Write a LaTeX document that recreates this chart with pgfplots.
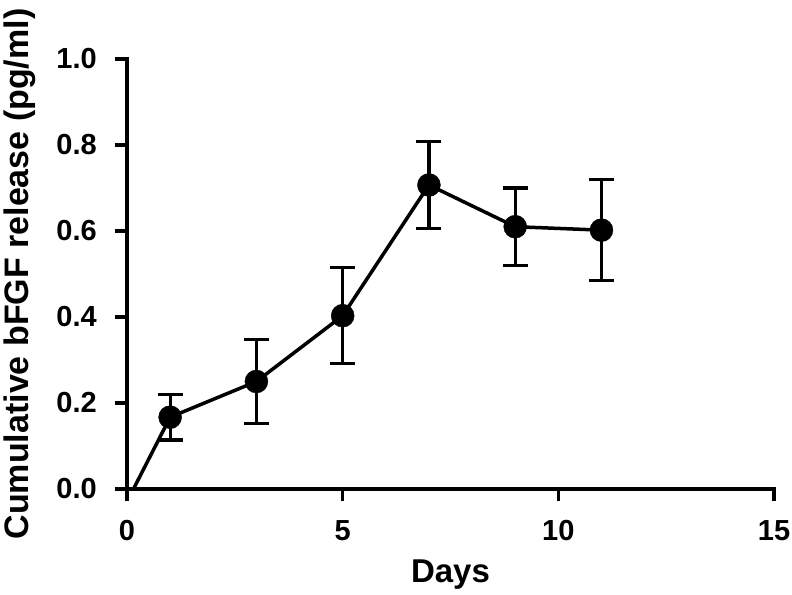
\documentclass[border=0pt]{standalone}
\usepackage{fontspec}
\setmainfont{Liberation Sans}
\usepackage{pgfplots}
\pgfplotsset{compat=1.18}

\begin{document}
\begin{tikzpicture}[x=1pt,y=1pt]
  % fixed page, 1pt = 1px of the reference
  \useasboundingbox (0,0) rectangle (792,594);

  \begin{axis}[
    at={(127pt,105pt)}, anchor=south west,
    scale only axis,
    width=647pt, height=430pt,
    xmin=0, xmax=15, ymin=0, ymax=1.0,
    axis x line*=bottom, axis y line*=left,
    axis line style={line width=3.2pt, line cap=rect},
    tick align=outside,
    major tick length=12pt,
    tick style={line width=3.2pt, black},
    xtick={0,5,10,15},
    ytick={0,0.2,0.4,0.6,0.8,1.0},
    /pgf/number format/assume math mode=true,
    yticklabel style={/pgf/number format/fixed, /pgf/number format/precision=1,
      /pgf/number format/fixed zerofill, font=\fontsize{29}{29}\selectfont\bfseries,
      anchor=east, inner sep=0pt, xshift=-18pt},
    xticklabel style={font=\fontsize{29}{29}\selectfont\bfseries,
      anchor=north, inner sep=0pt, yshift=-19pt},
    xlabel={Days},
    ylabel={Cumulative bFGF release (pg/ml)},
    every axis x label/.style={at={(axis description cs:0.5,-0.2186)}, anchor=base,
      font=\fontsize{33}{33}\selectfont\bfseries},
    every axis y label/.style={at={(axis description cs:-0.153,0.5)}, rotate=90, anchor=base,
      font=\fontsize{34}{34}\selectfont\bfseries},
    clip=false,
  ]

    % connecting line, starts near the origin
    \addplot[black, line width=3.5pt, mark=none]
      coordinates {(0.15,0) (1,0.167) (3,0.250) (5,0.403) (7,0.707) (9,0.610) (11,0.602)};

    % means with error bars
    \addplot[only marks, mark=*, mark size=11.5pt, black,
      error bars/.cd, y dir=both, y explicit,
      error bar style={line width=3.2pt, black},
      error mark options={rotate=90, mark size=12.5pt, line width=3.2pt, black}]
      coordinates {
        (1,0.167) +- (0,0.053)
        (3,0.250) +- (0,0.097)
        (5,0.403) +- (0,0.112)
        (7,0.707) +- (0,0.101)
        (9,0.610) +- (0,0.090)
        (11,0.602) +- (0,0.117)
      };

  \end{axis}
\end{tikzpicture}
\end{document}
